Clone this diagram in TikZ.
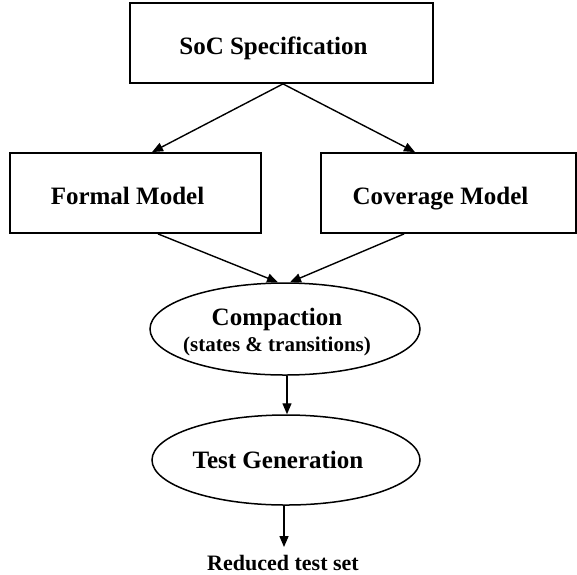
\documentclass[tikz,border=0pt]{standalone}
\usepackage{fontspec}
\setmainfont{Liberation Serif}
\usetikzlibrary{shapes.geometric,arrows.meta}
\begin{document}
\begin{tikzpicture}[x=1pt,y=-1pt,
  % text in the drawing sits a little left of the shape centre
  offtext/.style={execute at begin node=\kern-8pt, execute at end node=\kern8pt},
  stagebox/.style={draw, rectangle, line width=1.8pt, inner sep=0pt,
    text height=22pt, text depth=0pt,
    font=\fontsize{25}{30}\selectfont\bfseries, offtext},
  stageoval/.style={draw, ellipse, line width=1.5pt, inner sep=0pt, align=center,
    font=\fontsize{25}{30}\selectfont\bfseries},
  flow/.style={line width=1.4pt, -{Triangle[length=11pt,width=9pt]}},
]
\useasboundingbox (0,0) rectangle (577,574);

\node[stagebox, minimum width=303pt, minimum height=80pt] (soc) at (281.5,43) {SoC Specification};
\node[stagebox, minimum width=251pt, minimum height=80pt] (formal) at (135.5,193) {Formal Model};
\node[stagebox, minimum width=255pt, minimum height=80pt] (cover) at (448.5,193) {Coverage Model};

\node[stageoval, minimum width=270pt, minimum height=92pt] (compact) at (285,329)
  {\kern-16pt\rule{0pt}{24pt}Compaction\\[-4pt]\kern-16pt{\fontsize{21}{25}\selectfont(states \& transitions)}};
\node[stageoval, minimum width=268pt, minimum height=90pt, offtext,
  text height=16pt, text depth=0pt] (testgen) at (286,460) {Test Generation};

\node[font=\fontsize{22}{26}\selectfont\bfseries, anchor=base, inner sep=0pt] (reduced) at (283,570) {Reduced test set};

\draw[flow] ([xshift=1.5pt]soc.south) -- ([xshift=16.5pt]formal.north);
\draw[flow] ([xshift=1.5pt]soc.south) -- ([xshift=-33.5pt]cover.north);
\draw[flow] ([xshift=22.5pt]formal.south) -- ([xshift=-7pt]compact.north);
\draw[flow] ([xshift=-44.5pt]cover.south) -- ([xshift=5pt]compact.north);
\draw[flow] ([xshift=2pt]compact.south) -- ([xshift=1pt]testgen.north);
\draw[flow] ([xshift=-2pt]testgen.south) -- ([xshift=1pt,yshift=7.5pt]reduced.north);
\end{tikzpicture}
\end{document}
